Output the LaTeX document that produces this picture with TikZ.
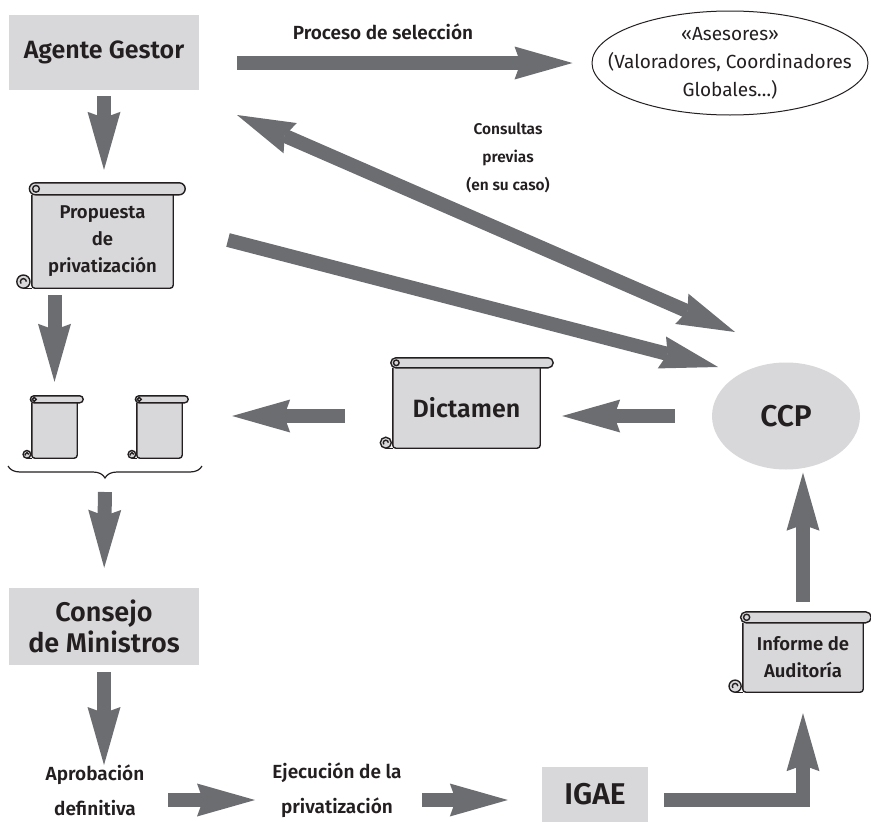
\documentclass[tikz,border=0pt]{standalone}
\usepackage{fontspec}
\setmainfont{Fira Sans}[BoldFont={Fira Sans SemiBold}]
\usetikzlibrary{arrows.meta,shapes.geometric,decorations.pathreplacing,calc}
\definecolor{boxgray}{RGB}{216,216,218}
\definecolor{arrowgray}{RGB}{108,109,113}
\definecolor{inkblack}{RGB}{35,31,32}

\newcommand{\fontbig}{\bfseries\fontsize{25}{31}\selectfont}
\newcommand{\fontbigger}{\bfseries\fontsize{30}{36}\selectfont}
\newcommand{\fontcm}{\bfseries\fontsize{27}{31}\selectfont}
\newcommand{\fontmid}{\bfseries\fontsize{18.5}{27}\selectfont}
\newcommand{\fontlow}{\bfseries\fontsize{19}{35}\selectfont}
\newcommand{\fontcons}{\bfseries\fontsize{15.5}{28}\selectfont}
\newcommand{\fontreg}{\fontsize{19}{28}\selectfont}

% scroll outline round a node: name, roll height, roll overhang
\newcommand{\drawscroll}[3]{%
  \draw[scrollline, rounded corners=3pt] (#1.north west) -- (#1.south west) -- (#1.south east) -- (#1.north east);
  \draw[scrollline] ($(#1.south west)+(-0.7*#2,0)$) -- (#1.south west);
  \draw[scrollline, fill=boxgray] ($(#1.south west)+(-0.7*#2,0.55*#2)$) circle[radius=0.55*#2];
  \draw[scrollline] ($(#1.south west)+(-0.45*#2,0.55*#2)$) arc[start angle=0, end angle=220, radius=0.25*#2];
  \draw[scrollline, fill=boxgray, rounded corners=0.5*#2] ($(#1.north west)+(-0.2*#2,0)$) rectangle ($(#1.north east)+(#3,#2)$);
  \draw[scrollline] ($(#1.north west)+(0.35*#2,0.5*#2)$) circle[radius=0.28*#2];
}

\begin{document}
\begin{tikzpicture}[x=1pt, y=-1pt,
    graybox/.style={rectangle, fill=boxgray, inner sep=0pt, align=center, text=inkblack},
    scrollbox/.style={rectangle, fill=boxgray, inner sep=0pt, align=center, text=inkblack},
    scrollline/.style={draw=inkblack, line width=1.4pt},
    lbl/.style={align=center, text=inkblack, inner sep=2pt},
    bigarrow/.style={draw=arrowgray, line width=14pt, -{Stealth[length=58pt, width=33pt, inset=6pt, line width=0pt]}},
    bothway/.style={draw=arrowgray, line width=14pt, {Stealth[length=58pt, width=33pt, inset=6pt, line width=0pt]}-{Stealth[length=58pt, width=33pt, inset=6pt, line width=0pt]}}]
    \useasboundingbox (0,0) rectangle (871,822);

    % Agente Gestor and the advisers
    \node[graybox, minimum width=190pt, minimum height=75pt, font=\fontbig] (agente) at (104,52.5) {Agente Gestor};
    \node[ellipse, draw=inkblack, line width=1pt, minimum width=276pt, minimum height=104pt, inner sep=0pt] (ases) at (730,63) {};
    \node[lbl, font=\fontreg] (asestxt) at (ases) {«Asesores»\\(Valoradores, Coordinadores\\Globales…)};
    \node[lbl, font=\fontlow] (proc) at (383,32) {Proceso de selección};
    \node[lbl, font=\fontcons] (cons) at (508,158) {Consultas\\previas\\(en su caso)};

    % Scrolls
    \node[scrollbox, minimum width=141pt, minimum height=93pt, font=\fontmid] (prop) at (102.5,241.5) {Propuesta\\de\\privatización};
    \drawscroll{prop}{12pt}{12pt}
    \node[scrollbox, minimum width=45pt, minimum height=55pt] (small1) at (54.5,430.5) {};
    \drawscroll{small1}{7pt}{6pt}
    \node[scrollbox, minimum width=45pt, minimum height=55pt] (small2) at (159.5,430.5) {};
    \drawscroll{small2}{7pt}{6pt}
    \node[scrollbox, minimum width=147pt, minimum height=80pt, font=\fontbig] (dict) at (466.5,408) {Dictamen};
    \drawscroll{dict}{10pt}{13pt}
    \node[scrollbox, minimum width=120pt, minimum height=69pt, font=\fontmid] (info) at (803,657.5) {Informe de\\Auditoría};
    \drawscroll{info}{11pt}{8pt}

    % Brace under both copies
    \draw[decorate, decoration={brace, mirror, amplitude=12pt}, draw=inkblack, line width=1.2pt] (8,466) -- (202,466);
    \coordinate (brtip) at (105,479);

    % CCP, Consejo, IGAE
    \node[ellipse, fill=boxgray, minimum width=148pt, minimum height=107pt, inner sep=0pt, font=\fontbigger, text=inkblack] (ccp) at (786,416) {CCP};
    \node[graybox, minimum width=190pt, minimum height=77pt, font=\fontcm] (consejo) at (104,626.5) {Consejo\\de Ministros};
    \node[lbl, font=\fontlow] (aprob) at (95,790) {Aprobación\\definitiva};
    \node[lbl, font=\fontlow] (ejec) at (337,790) {Ejecución de la\\privatización};
    \node[graybox, minimum width=106pt, minimum height=55pt, font=\fontbigger] (igae) at (595,794.5) {IGAE};

    % Arrows
    \coordinate (consA) at (237,115);
    \coordinate (consB) at (735,332);
    \coordinate (propout) at (228,240);
    \coordinate (ccpin) at (718,367);
    \draw[bigarrow, shorten <=6pt, shorten >=25pt] (agente.south) -- (agente.south |- prop.north);
    \draw[bigarrow, shorten <=38pt, shorten >=19pt] (agente.east |- ases.west) -- (ases.west);
    \draw[bothway] (consA) -- (consB);
    \draw[bigarrow] (propout) -- (ccpin);
    \draw[bigarrow, shorten <=37pt, shorten >=22pt] (ccp.west) -- (ccp.west -| dict.east);
    \draw[bigarrow, shorten <=48pt, shorten >=50pt] (dict.west |- ccp.west) -- (small2.east |- ccp.west);
    \draw[bigarrow, shorten <=7pt, shorten >=21pt] (small1.north |- prop.south) -- (small1.north);
    \draw[bigarrow, shorten <=13pt, shorten >=20pt] (brtip) -- (consejo.north);
    \draw[bigarrow, shorten <=7pt, shorten >=25pt] (consejo.south) -- (consejo.south |- aprob.center);
    \draw[bigarrow] ([xshift=73pt, yshift=-10pt]aprob.center) -- ([xshift=-82pt, yshift=-10pt]ejec.center);
    \draw[bigarrow, shorten >=34pt] ([xshift=85pt, yshift=-10pt]ejec.center) -- ([yshift=-10pt]ejec.center -| igae.west);
    \draw[bigarrow, shorten <=16pt, shorten >=21pt] ([yshift=-5.5pt]igae.east) -| (info.south);
    \draw[bigarrow, shorten <=21pt, shorten >=3pt] (info.north) -- (info.north |- ccp.south);
\end{tikzpicture}
\end{document}
